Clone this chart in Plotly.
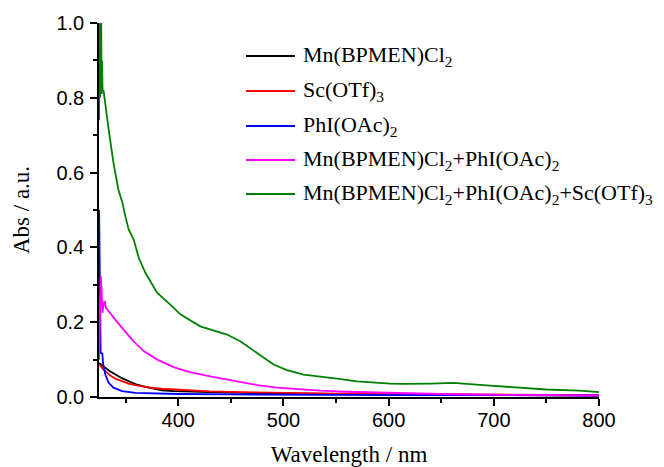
import plotly.graph_objects as go

# Wavelength (nm) / absorbance
wl_black = [324.8, 326, 328, 330.6, 335, 340.1, 346, 352.8, 360, 368.7, 376, 384.5, 395, 406.7, 430, 460, 500, 550, 600, 650, 700, 750, 800]
ab_black = [0.091, 0.088, 0.082, 0.078, 0.069, 0.060, 0.051, 0.042, 0.034, 0.027, 0.022, 0.018, 0.016, 0.0155, 0.013, 0.011, 0.009, 0.008, 0.007, 0.006, 0.005, 0.005, 0.004]

wl_red = [324.8, 326, 328, 330.6, 335, 340.1, 346, 352.8, 360, 368.7, 376, 384.5, 395, 406.7, 430, 460, 500, 550, 600, 650, 700, 750, 800]
ab_red = [0.087, 0.084, 0.076, 0.069, 0.058, 0.049, 0.042, 0.036, 0.031, 0.027, 0.024, 0.022, 0.020, 0.018, 0.015, 0.013, 0.011, 0.009, 0.008, 0.007, 0.006, 0.005, 0.005]

wl_blue = [324.7, 325.5, 326.2, 327.8, 328.4, 330.6, 333.8, 338.3, 346.5, 359.3, 380, 400, 450, 500, 600, 700, 800]
ab_blue = [0.50, 0.20, 0.118, 0.116, 0.091, 0.060, 0.038, 0.025, 0.016, 0.011, 0.009, 0.008, 0.007, 0.006, 0.005, 0.005, 0.004]

wl_pink = [324.7, 325.5, 326.3, 327.0, 327.9, 329.0, 330.1, 331.2, 332.6, 340, 348.5, 357, 367.4, 380, 395.5, 410, 430.4, 455.8, 475, 493.8, 515, 534.9, 560, 601.4, 650, 700, 750, 800]
ab_pink = [0.10, 0.30, 0.323, 0.29, 0.225, 0.25, 0.256, 0.238, 0.234, 0.207, 0.180, 0.150, 0.122, 0.100, 0.080, 0.067, 0.055, 0.041, 0.032, 0.025, 0.020, 0.017, 0.014, 0.011, 0.008, 0.006, 0.005, 0.004]

wl_green = [324.7, 325.1, 325.5, 325.9, 326.3, 326.7, 327.1, 327.5, 328.0, 329.0, 333.8, 338.3, 343.0, 346.8, 349.7, 352.8, 357.6, 362.3, 368.7, 379.8, 392.4, 401.9, 420.9, 446.3, 458.9, 474.8, 490.6, 503.3, 519.1, 550.8, 569.8, 601.4, 614, 640, 661.6, 693.2, 725, 750, 781.3, 800]
ab_green = [0.74, 1.0, 0.80, 1.0, 0.84, 1.0, 0.81, 0.90, 0.82, 0.818, 0.715, 0.627, 0.555, 0.520, 0.483, 0.448, 0.421, 0.373, 0.332, 0.279, 0.247, 0.221, 0.189, 0.167, 0.149, 0.118, 0.087, 0.072, 0.060, 0.049, 0.042, 0.036, 0.035, 0.036, 0.038, 0.031, 0.025, 0.020, 0.017, 0.013]

names = [
    "Mn(BPMEN)Cl<sub>2</sub>",
    "Sc(OTf)<sub>3</sub>",
    "PhI(OAc)<sub>2</sub>",
    "Mn(BPMEN)Cl<sub>2</sub>+PhI(OAc)<sub>2</sub>",
    "Mn(BPMEN)Cl<sub>2</sub>+PhI(OAc)<sub>2</sub>+Sc(OTf)<sub>3</sub>",
]
colors = ["#000000", "#ff0000", "#0000ff", "#ff00ff", "#008000"]
series = [(wl_black, ab_black), (wl_red, ab_red), (wl_blue, ab_blue), (wl_pink, ab_pink), (wl_green, ab_green)]

SERIF = "Times New Roman, Liberation Serif, serif"
SANS = "Arial, Liberation Sans, sans-serif"

W, H = 664, 467
ML, MR, MT, MB = 99, 65, 23, 70
PW, PH = W - ML - MR, H - MT - MB

fig = go.Figure()
for i, ((x, y), name, c) in enumerate(zip(series, names, colors)):
    fig.add_trace(go.Scatter(x=x, y=y, mode="lines", name=name,
                             line=dict(color=c, width=1.8), showlegend=False))

# hand-placed legend (lines + labels), positioned in paper coordinates
leg_rows_px = [56, 91, 126, 160, 194]
for name, c, py in zip(names, colors, leg_rows_px):
    yp = (H - MB - py) / PH
    fig.add_shape(type="line", xref="paper", yref="paper",
                  x0=(246 - ML) / PW, x1=(295 - ML) / PW, y0=yp, y1=yp,
                  line=dict(color=c, width=2))
    fig.add_annotation(xref="paper", yref="paper", x=(301 - ML) / PW, y=yp,
                       text=name, showarrow=False, xanchor="left", yanchor="middle",
                       font=dict(family=SERIF, size=22, color="black"))

axis_common = dict(
    showline=True, linecolor="black", linewidth=1.5, mirror=False,
    ticks="outside", ticklen=7, tickwidth=1.5, tickcolor="black",
    showgrid=False, zeroline=False, automargin=False,
    tickfont=dict(family=SANS, size=20, color="black"),
)

fig.update_layout(
    width=W, height=H,
    margin=dict(l=ML, r=MR, t=MT, b=MB),
    paper_bgcolor="white", plot_bgcolor="white",
    xaxis=dict(range=[324.6, 800], dtick=100, tick0=0,
               minor=dict(ticks="outside", dtick=50, ticklen=4, tickcolor="black"),
               ticklabelstandoff=-3,
               title=dict(text="Wavelength / nm", font=dict(family=SERIF, size=23, color="black"), standoff=16),
               **axis_common),
    yaxis=dict(range=[0, 1.0], dtick=0.2, tickformat=".1f",
               minor=dict(ticks="outside", dtick=0.1, ticklen=4, tickcolor="black"),
               ticklabelstandoff=2,
               title=dict(text="Abs / a.u.", font=dict(family=SERIF, size=23, color="black"), standoff=20),
               **axis_common),
    showlegend=False,
)

fig.write_html("out.html")
